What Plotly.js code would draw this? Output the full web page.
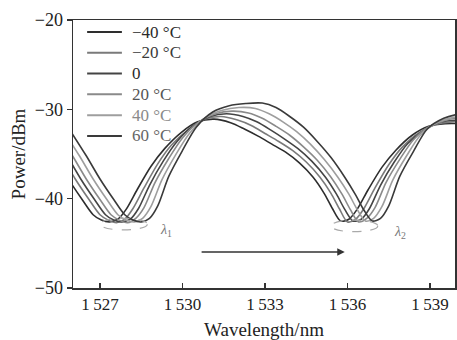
<!DOCTYPE html>
<html>
<head>
<meta charset="utf-8">
<script src="https://cdn.plot.ly/plotly-3.0.1.min.js"></script>
<style>html,body{margin:0;padding:0;background:#fff;}#chart{width:457px;height:340px;}</style>
</head>
<body>
<div id="chart"></div>
<script>
// Legend labels (temperature)
const seriesNames = ['\u221240 \u00b0C', '\u221220 \u00b0C', '0', '20 \u00b0C', '40 \u00b0C', '60 \u00b0C'];
const seriesColors = ['#2e2e2e', '#7a7a7a', '#444444', '#8a8a8a', '#9e9e9e', '#3a3a3a'];
const labelColors = ['#2a2a2a', '#3a3a3a', '#2a2a2a', '#555555', '#8a8a8a', '#666666'];

// Wavelength (nm) sample points for each temperature
const wl_m40 = [1524.75,1525.35,1525.85,1526.35,1526.75,1527.05,1527.35,1527.65,1527.95,1528.35,1528.85,1529.35,1529.95,1530.55,1531.15,1531.75,1532.25,1532.75,1533.25,1533.75,1534.25,1534.75,1535.15,1535.45,1535.75,1536.05,1536.35,1536.75,1537.25,1537.75,1538.35,1538.95,1539.55,1540.15];
const wl_m20 = [1525.0,1525.6,1526.1,1526.6,1527.0,1527.3,1527.6,1527.9,1528.2,1528.6,1529.1,1529.6,1530.2,1530.8,1531.4,1532.0,1532.5,1533.0,1533.5,1534.0,1534.5,1535.0,1535.4,1535.7,1536.0,1536.3,1536.6,1537.0,1537.5,1538.0,1538.6,1539.2,1539.8,1540.4];
const wl_0   = [1525.2,1525.8,1526.3,1526.8,1527.2,1527.5,1527.8,1528.1,1528.4,1528.8,1529.3,1529.8,1530.4,1531.0,1531.6,1532.2,1532.7,1533.2,1533.7,1534.2,1534.7,1535.2,1535.6,1535.9,1536.2,1536.5,1536.8,1537.2,1537.7,1538.2,1538.8,1539.4,1540.0,1540.6];
const wl_20  = [1525.4,1526.0,1526.5,1527.0,1527.4,1527.7,1528.0,1528.3,1528.6,1529.0,1529.5,1530.0,1530.6,1531.2,1531.8,1532.4,1532.9,1533.4,1533.9,1534.4,1534.9,1535.4,1535.8,1536.1,1536.4,1536.7,1537.0,1537.4,1537.9,1538.4,1539.0,1539.6,1540.2,1540.8];
const wl_40  = [1525.65,1526.25,1526.75,1527.25,1527.65,1527.95,1528.25,1528.55,1528.85,1529.25,1529.75,1530.25,1530.85,1531.45,1532.05,1532.65,1533.15,1533.65,1534.15,1534.65,1535.15,1535.65,1536.05,1536.35,1536.65,1536.95,1537.25,1537.65,1538.15,1538.65,1539.25,1539.85,1540.45,1541.05];
const wl_60  = [1525.9,1526.5,1527.0,1527.5,1527.9,1528.2,1528.5,1528.8,1529.1,1529.5,1530.0,1530.5,1531.1,1531.7,1532.3,1532.9,1533.4,1533.9,1534.4,1534.9,1535.4,1535.9,1536.3,1536.6,1536.9,1537.2,1537.5,1537.9,1538.4,1538.9,1539.5,1540.1,1540.7,1541.3];

// Power (dBm)
const p_m40 = [-32.3,-35.2,-37.8,-40.1,-41.8,-42.4,-42.6,-42.3,-41.2,-39.0,-36.4,-34.4,-32.6,-31.4,-31.1,-31.5,-32.2,-33.0,-33.9,-34.8,-36.0,-37.6,-39.4,-41.1,-42.5,-42.3,-41.2,-39.0,-36.5,-34.6,-32.9,-31.9,-31.6,-31.6];
const p_m20 = [-32.3,-35.2,-37.8,-40.1,-41.8,-42.4,-42.7,-42.3,-41.1,-38.8,-36.1,-34.0,-32.3,-31.1,-30.8,-31.2,-31.8,-32.7,-33.6,-34.6,-35.9,-37.6,-39.4,-41.1,-42.6,-42.3,-41.1,-38.8,-36.2,-34.2,-32.6,-31.7,-31.4,-31.4];
const p_0   = [-32.3,-35.2,-37.8,-40.1,-41.8,-42.4,-42.6,-42.3,-41.1,-38.5,-35.8,-33.6,-31.8,-30.8,-30.5,-30.8,-31.4,-32.3,-33.3,-34.4,-35.8,-37.6,-39.5,-41.2,-42.5,-42.3,-41.1,-38.5,-35.9,-33.8,-32.3,-31.4,-31.2,-31.2];
const p_20  = [-32.3,-35.2,-37.8,-40.1,-41.8,-42.4,-42.7,-42.2,-41.0,-38.2,-35.5,-33.2,-31.4,-30.5,-30.2,-30.4,-31.0,-31.9,-32.9,-34.2,-35.7,-37.6,-39.5,-41.2,-42.6,-42.2,-41.0,-38.2,-35.6,-33.4,-31.9,-31.2,-30.9,-30.9];
const p_40  = [-32.3,-35.2,-37.8,-40.1,-41.8,-42.4,-42.6,-42.2,-40.9,-37.9,-35.1,-32.7,-30.9,-30.1,-29.8,-29.9,-30.5,-31.4,-32.5,-33.9,-35.6,-37.6,-39.5,-41.2,-42.5,-42.2,-40.9,-37.9,-35.2,-32.9,-31.5,-30.9,-30.7,-30.7];
const p_60  = [-32.3,-35.2,-37.8,-40.1,-41.8,-42.4,-42.6,-42.2,-40.8,-37.5,-34.6,-32.0,-30.3,-29.6,-29.35,-29.3,-29.8,-30.8,-32.0,-33.6,-35.4,-37.6,-39.6,-41.3,-42.5,-42.2,-40.8,-37.5,-34.7,-32.2,-31.0,-30.5,-30.3,-30.3];

// Axis ticks
const xTickVals = [1527, 1530, 1533, 1536, 1539];
const xTickText = ['1\u2009527', '1\u2009530', '1\u2009533', '1\u2009536', '1\u2009539'];
const yTickVals = [-50, -40, -30, -20];

const wls = [wl_m40, wl_m20, wl_0, wl_20, wl_40, wl_60];
const pws = [p_m40, p_m20, p_0, p_20, p_40, p_60];

const serif = 'Liberation Serif, Times New Roman, serif';

const traces = wls.map((w, i) => ({
  x: w, y: pws[i], type: 'scatter', mode: 'lines', name: seriesNames[i], showlegend: false,
  line: {color: seriesColors[i], width: 1.6, shape: 'spline', smoothing: 0.8}
}));

// Legend drawn in paper coordinates (sample line + label per series)
const legTop = 0.955, legStep = 0.0775;
const legShapes = seriesNames.map((n, i) => ({
  type: 'line', xref: 'paper', yref: 'paper',
  x0: 0.037, x1: 0.128, y0: legTop - i * legStep, y1: legTop - i * legStep,
  line: {color: seriesColors[i], width: 2}
}));
const legLabels = seriesNames.map((n, i) => ({
  xref: 'paper', yref: 'paper', x: 0.148, y: legTop - i * legStep,
  xanchor: 'left', yanchor: 'middle', showarrow: false, text: n,
  font: {family: serif, size: 17, color: labelColors[i]}
}));

const layout = {
  width: 457, height: 340,
  margin: {l: 73, r: 2, t: 20, b: 52},
  paper_bgcolor: '#fff', plot_bgcolor: '#fff',
  font: {family: serif, color: '#222', size: 16},
  showlegend: false,
  xaxis: {
    range: [1526.018, 1539.909], tickvals: xTickVals, ticktext: xTickText,
    ticks: 'inside', ticklen: 5, tickcolor: '#333', tickwidth: 1.2,
    showline: true, linecolor: '#333', linewidth: 1.5, mirror: true,
    showgrid: false, zeroline: false,
    tickfont: {family: serif, size: 17, color: '#222'},
    title: {text: 'Wavelength/nm', font: {family: serif, size: 19, color: '#222'}, standoff: 10}
  },
  yaxis: {
    range: [-50, -20], tickvals: yTickVals,
    ticks: 'outside', ticklen: 5, tickcolor: '#333', tickwidth: 1.2,
    showline: true, linecolor: '#333', linewidth: 1.5, mirror: true,
    showgrid: false, zeroline: false,
    tickfont: {family: serif, size: 18, color: '#222'},
    title: {text: 'Power/dBm', font: {family: serif, size: 19, color: '#222'}, standoff: 4}
  },
  shapes: [
    {type: 'circle', xref: 'x', yref: 'y', x0: 1527.0, x1: 1528.72, y0: -43.5, y1: -42.2,
     line: {color: '#aaa', width: 1.2, dash: 'dash'}},
    {type: 'circle', xref: 'x', yref: 'y', x0: 1535.4, x1: 1537.1, y0: -43.7, y1: -42.4,
     line: {color: '#aaa', width: 1.2, dash: 'dash'}}
  ].concat(legShapes),
  annotations: [
    {x: 1535.9, y: -45.97, ax: 1530.64, ay: -45.97, xref: 'x', yref: 'y', axref: 'x', ayref: 'y',
     text: '', showarrow: true, arrowhead: 2, arrowsize: 1, arrowwidth: 1.5, arrowcolor: '#333'},
    {x: 1529.4, y: -43.6, xref: 'x', yref: 'y', showarrow: false,
     text: '<i>\u03bb</i><sub>1</sub>', font: {family: serif, size: 14, color: '#777'}},
    {x: 1537.9, y: -43.8, xref: 'x', yref: 'y', showarrow: false,
     text: '<i>\u03bb</i><sub>2</sub>', font: {family: serif, size: 14, color: '#777'}}
  ].concat(legLabels)
};

Plotly.newPlot('chart', traces, layout, {staticPlot: true, displayModeBar: false});
</script>
</body>
</html>
